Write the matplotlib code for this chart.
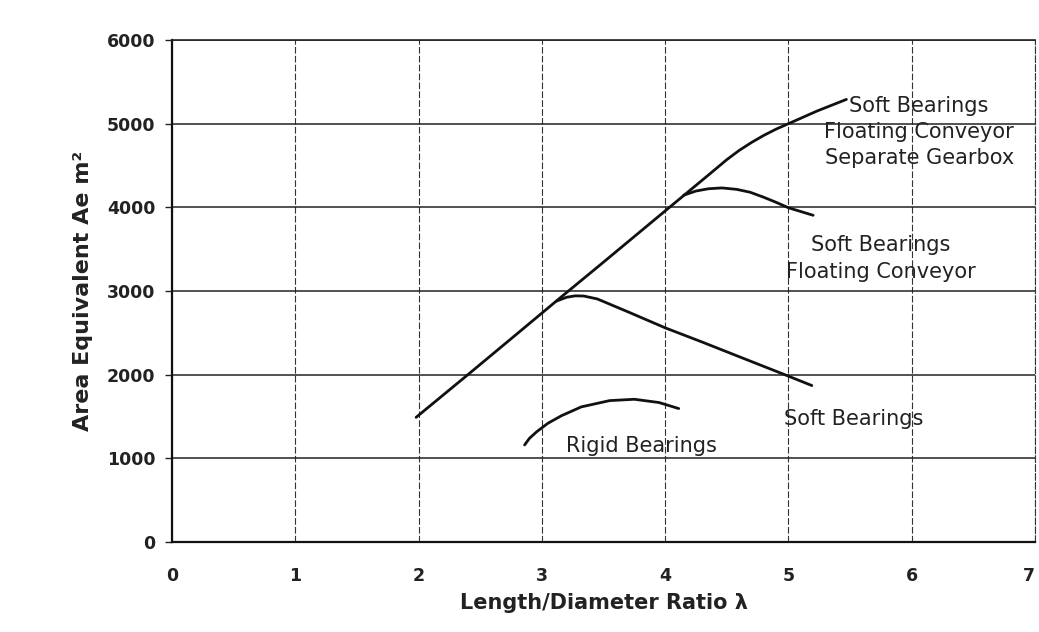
"""Area equivalent vs length/diameter ratio for silo bearing configurations."""
import matplotlib

matplotlib.use("Agg")

import matplotlib.pyplot as plt

# curve readings (length/diameter ratio, area equivalent m^2)
gearbox_x = [1.98, 2.4, 2.8, 3.15, 3.5, 4.035, 4.35, 4.5, 4.6, 4.7, 4.8, 4.9, 5.0, 5.1, 5.23, 5.35, 5.47]
gearbox_y = [1490, 2000, 2490, 2920, 3345, 4000, 4385, 4570, 4680, 4775, 4860, 4935, 5000, 5065, 5150, 5220, 5290]

conveyor_x = [4.15, 4.25, 4.35, 4.46, 4.58, 4.69, 4.8, 4.9, 5.0, 5.1, 5.2]
conveyor_y = [4145, 4195, 4222, 4232, 4215, 4180, 4120, 4060, 3995, 3950, 3905]

soft_x = [3.12, 3.2, 3.27, 3.34, 3.45, 3.7, 4.0, 4.3, 4.6, 4.97, 5.19]
soft_y = [2880, 2925, 2942, 2940, 2905, 2750, 2560, 2390, 2215, 2000, 1870]

rigid_x = [2.86, 2.9, 2.96, 3.05, 3.16, 3.32, 3.55, 3.75, 3.95, 4.11]
rigid_y = [1160, 1240, 1320, 1420, 1510, 1615, 1690, 1706, 1667, 1595]

labels = [
    ("Soft Bearings\nFloating Conveyor\nSeparate Gearbox", 6.06, 4900),
    ("Soft Bearings\nFloating Conveyor", 5.75, 3390),
    ("Soft Bearings", 5.53, 1476),
    ("Rigid Bearings", 3.81, 1147),
]

x_ticks = [0, 1, 2, 3, 4, 5, 6, 7]
y_ticks = [0, 1000, 2000, 3000, 4000, 5000, 6000]


def main() -> None:
    plt.rcParams["font.family"] = ["DejaVu Sans"]
    fig, ax = plt.subplots(figsize=(10.39, 6.32), dpi=100)
    fig.subplots_adjust(left=0.1655, right=0.9962, bottom=0.1424, top=0.9367)

    ax.set_xlim(0, 7)
    ax.set_ylim(0, 6000)
    ax.set_xticks(x_ticks)
    ax.set_yticks(y_ticks)

    ax.grid(axis="y", color="#222222", linewidth=1.1, linestyle="-")
    ax.grid(axis="x", color="#333333", linewidth=0.8, linestyle=(0, (6, 2)))
    ax.set_axisbelow(True)

    for name in ("left", "bottom"):
        ax.spines[name].set_linewidth(1.6)
        ax.spines[name].set_color("#111111")
    ax.spines["top"].set_linewidth(1.2)
    ax.spines["top"].set_color("#222222")
    ax.spines["right"].set_linewidth(0.8)
    ax.spines["right"].set_color("#333333")
    ax.spines["right"].set_linestyle((0, (6, 2)))

    ax.tick_params(axis="y", direction="out", length=5, width=1.0, pad=7,
                   labelsize=12.5, colors="#222222")
    ax.tick_params(axis="x", length=0, pad=18, labelsize=12.5, colors="#222222")
    for lab in ax.get_xticklabels() + ax.get_yticklabels():
        lab.set_fontweight("bold")
    # last x label sits on the figure edge; keep it inside
    ax.get_xticklabels()[-1].set_horizontalalignment("right")

    for xs, ys in [(gearbox_x, gearbox_y), (conveyor_x, conveyor_y),
                   (soft_x, soft_y), (rigid_x, rigid_y)]:
        ax.plot(xs, ys, color="#111111", linewidth=2.0, solid_capstyle="round",
                solid_joinstyle="round")

    for text, lx, ly in labels:
        ax.text(lx, ly, text, ha="center", va="center", multialignment="center",
                fontsize=15, color="#222222", linespacing=1.4)

    ax.set_xlabel("Length/Diameter Ratio \u03bb", fontsize=15, fontweight="bold",
                  color="#222222", labelpad=6)
    ax.set_ylabel("Area Equivalent Ae m\u00b2", fontsize=16, fontweight="bold",
                  color="#222222", labelpad=10)

    fig.savefig("out.png", dpi=100)
    plt.close(fig)


if __name__ == "__main__":
    main()
